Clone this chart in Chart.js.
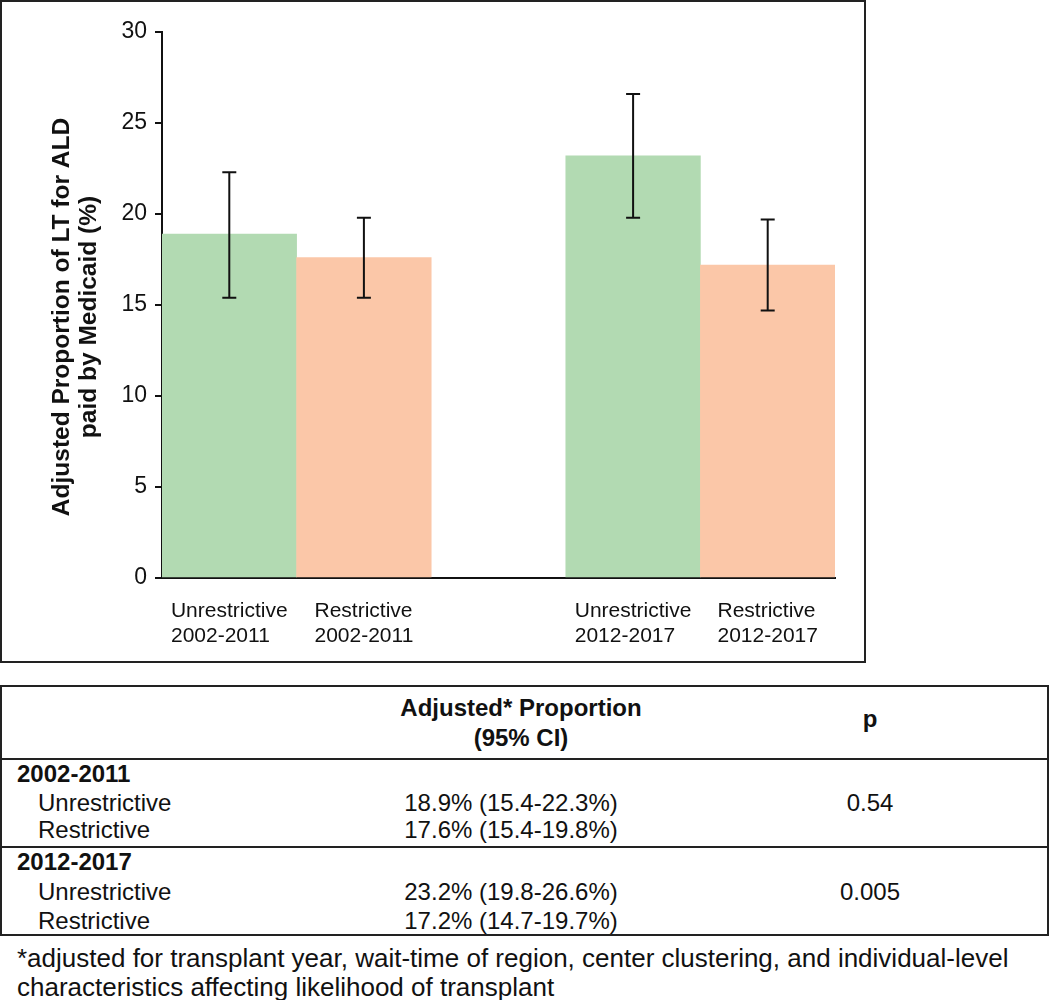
<!DOCTYPE html>
<html>
<head>
<meta charset="utf-8">
<script src="https://cdn.jsdelivr.net/npm/chart.js@4.4.1/dist/chart.umd.min.js"></script>
<style>
  html, body { margin: 0; padding: 0; background: #fff; }
  body { width: 1050px; height: 1000px; position: relative; overflow: hidden;
         font-family: 'Liberation Sans', Arial, sans-serif; color: #111; }
  #chartBox { position: absolute; left: 0; top: 0; width: 866px; height: 663px;
              border: 2px solid #222; box-sizing: border-box; pointer-events: none; }
  #c { position: absolute; left: 0; top: 0; }
  #tableBox { position: absolute; left: 0; top: 685px; width: 1049px; height: 251px;
              border: 2px solid #222; box-sizing: border-box; }
  .hline { position: absolute; left: 0; width: 1049px; height: 2px; background: #222; }
  .t { position: absolute; font-size: 24px; line-height: 24px; white-space: nowrap; }
  .b { font-weight: bold; }
  .fn { font-size: 26px; }
</style>
</head>
<body>
<canvas id="c" width="866" height="663"></canvas>
<div id="chartBox"></div>
<div id="tableBox"></div>
<div class="hline" style="top:758px"></div>
<div class="hline" style="top:846px"></div>
<div id="texts"></div>
<script>
// ---- chart data ----
const categories = [
  ['Unrestrictive', '2002-2011'],
  ['Restrictive', '2002-2011'],
  [],
  ['Unrestrictive', '2012-2017'],
  ['Restrictive', '2012-2017']
];
const policy = ['Unrestrictive', 'Restrictive', null, 'Unrestrictive', 'Restrictive'];
const proportions = [18.9, 17.6, null, 23.2, 17.2];
const ciLower = [15.4, 15.4, null, 19.8, 14.7];
const ciUpper = [22.3, 19.8, null, 26.6, 19.7];
const yMin = 0, yMax = 30, yStep = 5;
const yTitle = ['Adjusted Proportion of LT for ALD', 'paid by Medicaid (%)'];

// ---- table data ----
const tableHeader = ['Adjusted* Proportion', '(95% CI)'];
const tablePHeader = 'p';
const periods = ['2002-2011', '2012-2017'];
const rowLabels = [['Unrestrictive', 'Restrictive'], ['Unrestrictive', 'Restrictive']];
const rowValues = [['18.9% (15.4-22.3%)', '17.6% (15.4-19.8%)'], ['23.2% (19.8-26.6%)', '17.2% (14.7-19.7%)']];
const pValues = ['0.54', '0.005'];
const footnote = ['*adjusted for transplant year, wait-time of region, center clustering, and individual-level',
                  'characteristics affecting likelihood of transplant'];

const colorMap = { 'Unrestrictive': '#b2dab2', 'Restrictive': '#fbc7a8' };
const FONT = "'Liberation Sans', Arial, sans-serif";
Chart.defaults.font.family = FONT;
Chart.defaults.color = '#111';

const errorBars = {
  id: 'errorBars',
  afterDatasetsDraw(chart) {
    const ctx = chart.ctx, xs = chart.scales.x, ys = chart.scales.y;
    ctx.save();
    ctx.strokeStyle = '#111';
    ctx.lineWidth = 2;
    proportions.forEach((v, i) => {
      if (v === null) return;
      const x = xs.getPixelForValue(i);
      const yl = ys.getPixelForValue(ciLower[i]);
      const yh = ys.getPixelForValue(ciUpper[i]);
      ctx.beginPath();
      ctx.moveTo(x, yl); ctx.lineTo(x, yh);
      ctx.moveTo(x - 7, yl); ctx.lineTo(x + 7, yl);
      ctx.moveTo(x - 7, yh); ctx.lineTo(x + 7, yh);
      ctx.stroke();
    });
    ctx.restore();
  }
};

const labelsPlugin = {
  id: 'labelsPlugin',
  afterDraw(chart) {
    const ctx = chart.ctx, xs = chart.scales.x, ys = chart.scales.y;
    ctx.save();
    ctx.font = '21px ' + FONT;
    ctx.fillStyle = '#111';
    ctx.textAlign = 'left';
    ctx.textBaseline = 'alphabetic';
    const base = ys.getPixelForValue(yMin);
    categories.forEach((lines, i) => {
      if (!lines.length) return;
      const x = xs.getPixelForValue(i);
      const w = Math.max(...lines.map(l => ctx.measureText(l).width));
      lines.forEach((l, j) => ctx.fillText(l, x - w / 2, base + 39 + j * 25));
    });
    // y-axis title (two rotated lines)
    ctx.font = 'bold 24.5px ' + FONT;
    ctx.textAlign = 'center';
    ctx.textBaseline = 'middle';
    const cy = (ys.top + ys.bottom) / 2 + 12;
    yTitle.forEach((t, j) => {
      ctx.save();
      ctx.translate(62 + j * 27, cy);
      ctx.rotate(-Math.PI / 2);
      ctx.fillText(t, 0, 0);
      ctx.restore();
    });
    ctx.restore();
  }
};

new Chart(document.getElementById('c'), {
  type: 'bar',
  data: {
    labels: categories,
    datasets: [{
      data: proportions,
      backgroundColor: policy.map(p => p ? colorMap[p] : 'rgba(0,0,0,0)'),
      borderWidth: 0,
      barPercentage: 1.0,
      categoryPercentage: 1.0
    }]
  },
  options: {
    responsive: false,
    devicePixelRatio: 1,
    animation: false,
    layout: { padding: { left: 0, right: 31, top: 32, bottom: 0 } },
    plugins: { legend: { display: false }, tooltip: { enabled: false } },
    scales: {
      x: {
        ticks: { display: false },
        grid: { display: false },
        border: { display: true, color: '#111', width: 2 },
        afterFit(s) { s.height = 85; }
      },
      y: {
        min: yMin, max: yMax,
        ticks: { stepSize: yStep, font: { size: 23 }, color: '#111', padding: 8 },
        grid: { display: true, drawOnChartArea: false, drawTicks: true, tickLength: 7, color: '#111', lineWidth: 2 },
        border: { display: true, color: '#111', width: 2 },
        title: { display: false },
        afterFit(s) { s.width = 162; }
      }
    }
  },
  plugins: [errorBars, labelsPlugin]
});

// ---- table text ----
const texts = document.getElementById('texts');
function place(str, x, yc, align, bold, cls) {
  const d = document.createElement('div');
  d.className = 't' + (bold ? ' b' : '') + (cls ? ' ' + cls : '');
  d.textContent = str;
  d.style.top = (yc - 12) + 'px';
  if (align === 'center') { d.style.left = (x - 300) + 'px'; d.style.width = '600px'; d.style.textAlign = 'center'; }
  else d.style.left = x + 'px';
  texts.appendChild(d);
}
place(tableHeader[0], 521, 708, 'center', true);
place(tableHeader[1], 521, 738, 'center', true);
place(tablePHeader, 870, 719, 'center', true);
const periodY = [774, 862];
const rowY = [[803, 830], [892, 921]];
periods.forEach((p, i) => {
  place(p, 17, periodY[i], 'left', true);
  rowLabels[i].forEach((l, j) => {
    place(l, 38, rowY[i][j], 'left', false);
    place(rowValues[i][j], 511, rowY[i][j], 'center', false);
  });
  place(pValues[i], 870, rowY[i][0], 'center', false);
});
place(footnote[0], 17, 958, 'left', false, 'fn');
place(footnote[1], 17, 987, 'left', false, 'fn');
</script>
</body>
</html>
